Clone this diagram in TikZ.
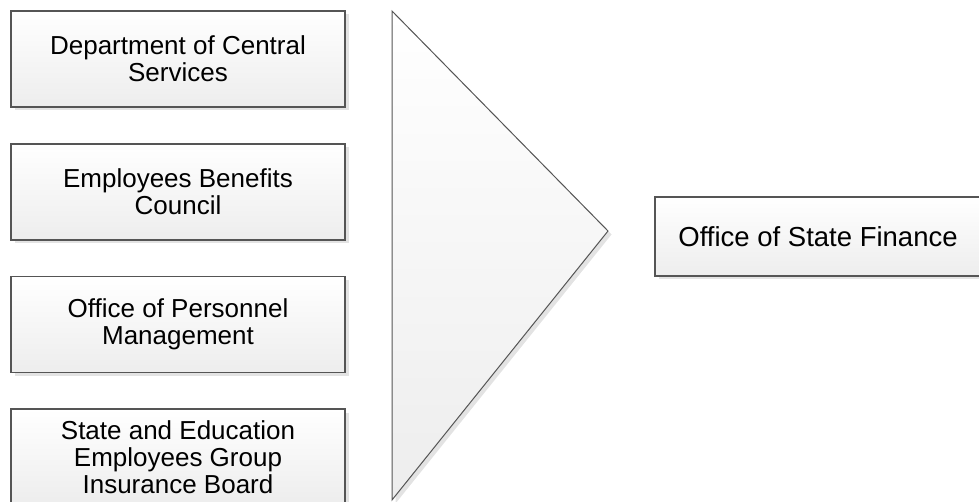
\documentclass[tikz,border=0pt]{standalone}
\usepackage{fontspec}
\setmainfont{Liberation Sans}
\usepackage{tikz}
\usetikzlibrary{shadows}
\pgfdeclarelayer{edgelayer}
\pgfdeclarelayer{nodelayer}
\pgfsetlayers{edgelayer,nodelayer,main}
\definecolor{boxline}{HTML}{555555}
\definecolor{boxshade}{HTML}{EDEDED}
\definecolor{boxshadow}{HTML}{E3E3E3}
\tikzstyle{plate}=[draw=boxline, line width=1.2pt, top color=white, bottom color=boxshade, drop shadow={shadow xshift=3.5pt, shadow yshift=-3.5pt, fill=boxshadow, opacity=1}]
\tikzstyle{unit}=[plate, rectangle, align=center, minimum width=334pt, minimum height=96pt, inner sep=0pt, font=\fontsize{26}{27}\selectfont]

\begin{document}
\begin{tikzpicture}[x=1pt, y=-1pt]
				\useasboundingbox (0, 0) rectangle (979, 502);
				\begin{pgfonlayer}{nodelayer}
					\node [style=unit] (1) at (178, 59) {Department of Central\\Services};
					\node [style=unit] (2) at (178, 192) {Employees Benefits\\Council};
					\node [style=unit] (3) at (178, 324.5) {Office of Personnel\\Management};
					\node [style=unit] (4) at (178, 457) {State and Education\\Employees Group\\Insurance Board};
					\node [style=unit, minimum width=326pt, minimum height=79pt, font=\fontsize{27.5}{28}\selectfont] (5) at (818, 236.5) {Office of State Finance};
				\end{pgfonlayer}
				\begin{pgfonlayer}{edgelayer}
					\coordinate (6) at (392, 11);
					\coordinate (7) at (608, 231);
					\coordinate (8) at (392, 500);
					\draw [style=plate, line width=1pt, line join=miter] (6) -- (7) -- (8) -- cycle;
				\end{pgfonlayer}
			\end{tikzpicture}
\end{document}
